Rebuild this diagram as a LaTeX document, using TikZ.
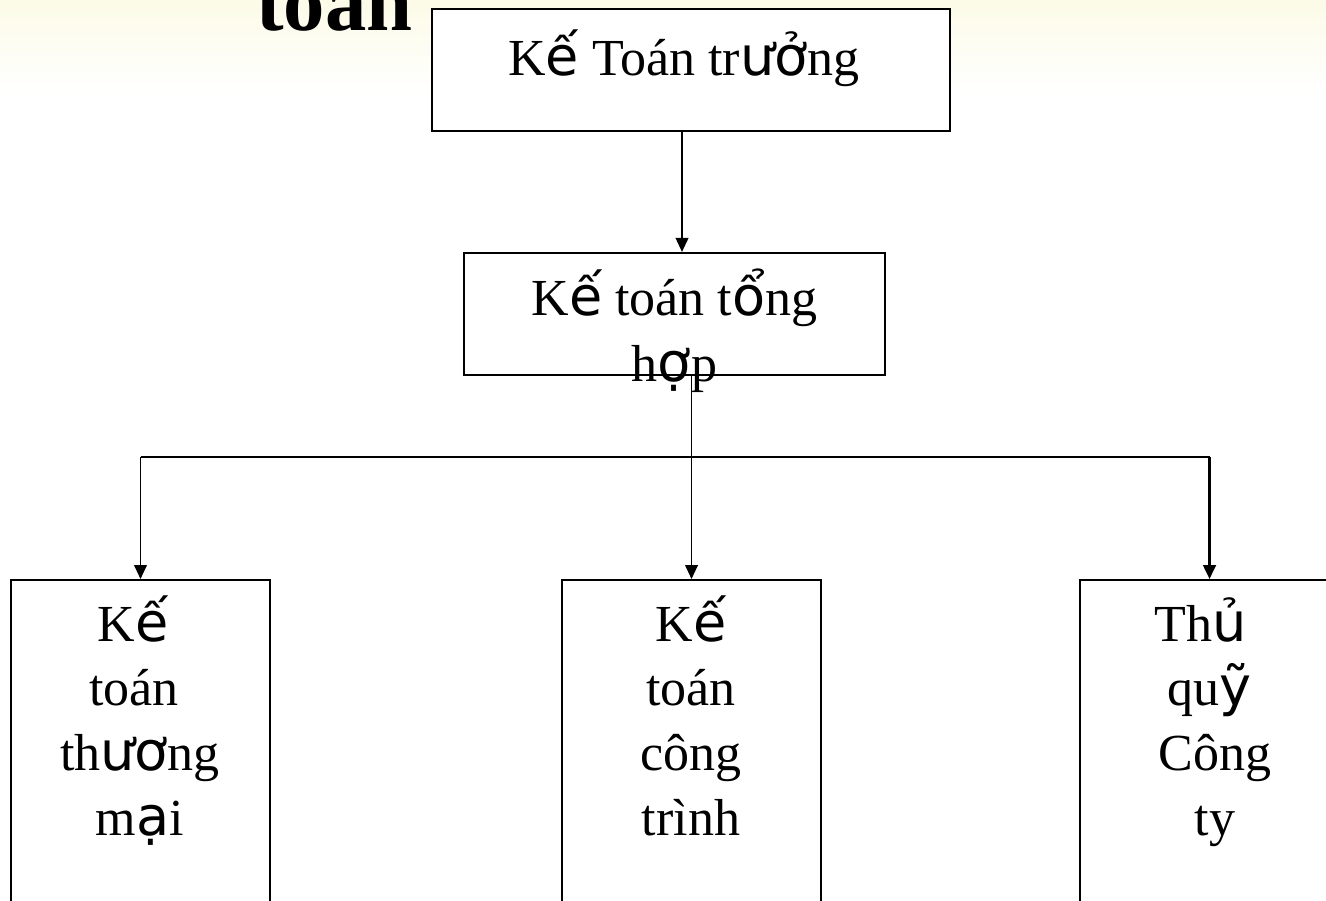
\documentclass[tikz,border=0pt]{standalone}
\usepackage{fontspec}
\setmainfont{Liberation Serif}
\newfontfamily\fb{DejaVu Sans}[Scale=1.04]
\usetikzlibrary{arrows.meta}
\newcommand{\fg}[1]{{\fb #1}}
\newcommand{\tsp}[1]{\kern#1em}
\tikzset{
  box/.style={draw=black, line width=1.6pt, inner sep=0pt, fill=white},
  lbl/.style={font=\fontsize{39}{48.4}\selectfont, align=center, inner sep=0pt, anchor=base},
  conn/.style={draw=black, line width=1.4pt},
  arr/.style={conn, -{Triangle[width=9.5pt,length=10.5pt]}},
}
\begin{document}
\begin{tikzpicture}[x=0.75pt,y=-0.75pt]
\useasboundingbox (0,0) rectangle (1326,900);
\clip (0,0) rectangle (1326,900);
\fill[white] (0,0) rectangle (1326,900);
\shade[top color={rgb,255:red,252;green,251;blue,232}, bottom color=white] (0,0) rectangle (1326,95);
% title fragment
\node[font=\fontsize{62}{70}\selectfont\bfseries, inner sep=0pt, anchor=base west] (title) at (256,30) {toán};
% boxes
\node[box, minimum width=518*0.75pt, minimum height=122*0.75pt, line width=2.2pt] (b1) at (691,70) {};
\node[box, minimum width=421*0.75pt, minimum height=122*0.75pt] (b2) at (674.5,314) {};
\node[box, minimum width=259*0.75pt, minimum height=360*0.75pt, anchor=north] (bl) at (140.5,579) {};
\node[box, minimum width=259*0.75pt, minimum height=360*0.75pt, anchor=north] (bm) at (691.5,579) {};
\node[box, minimum width=259*0.75pt, minimum height=360*0.75pt, anchor=north] (br) at (1209.5,579) {};
% texts (base anchor = baseline of the last line)
\node[lbl] (t1) at (684,75) {K\fg{ế} Toán tr\fg{ưở}ng};
\node[lbl, font=\fontsize{39}{49.5}\selectfont] (t2) at (674.5,381) {K\fg{ế} toán t\fg{ổ}ng\\h\fg{ợ}p};
\node[lbl] (tl) at (140,835) {K\fg{ế}\tsp{0.27}\\toán\tsp{0.23}\\th\fg{ươ}ng\\m\fg{ạ}i};
\node[lbl] (tm) at (691,835) {K\fg{ế}\\toán\\công\\trình};
\node[lbl] (tr) at (1215,835) {Th\fg{ủ}\tsp{0.54}\\qu\fg{ỹ}\tsp{0.23}\\Công\\ty};
% connectors
\coordinate (x1) at (682,0);
\coordinate (busL) at (140.5,457);
\coordinate (busR) at (1209.5,457);
\draw[arr] (b1.south -| x1) -- (b2.north -| x1);
\draw[arr] (b2.south -| bm.north) -- (bm.north);
\draw[conn] (busL) -- (busR);
\draw[arr] (busL) -- (bl.north);
\draw[arr, line width=2pt] (busR) -- (br.north);
\end{tikzpicture}
\end{document}
